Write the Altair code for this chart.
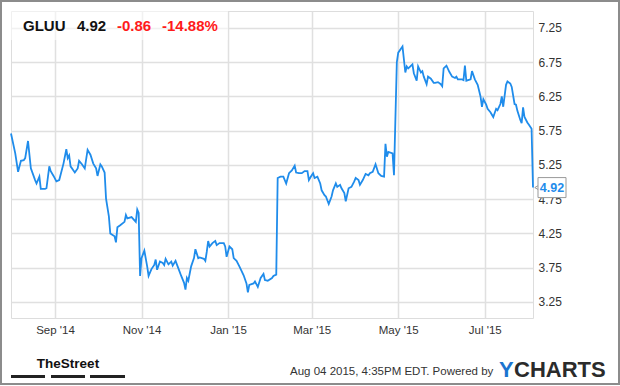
import altair as alt
import pandas as pd

# ---------------- data ----------------
ticker = "GLUU"
last_price = "4.92"
change = "-0.86"
change_pct = "-14.88%"
timestamp_text = "Aug 04 2015, 4:35PM EDT.  Powered by"
brand_left = "TheStreet"
brand_y = "Y"
brand_rest = "CHARTS"

dates = [
    "2014-08-01", "2014-08-04", "2014-08-06", "2014-08-08", "2014-08-10", "2014-08-11",
    "2014-08-13", "2014-08-15", "2014-08-18", "2014-08-19", "2014-08-21", "2014-08-22",
    "2014-08-25", "2014-08-26", "2014-08-28", "2014-08-29", "2014-08-31", "2014-09-02",
    "2014-09-04", "2014-09-07", "2014-09-09", "2014-09-10", "2014-09-11", "2014-09-12",
    "2014-09-15", "2014-09-17", "2014-09-18", "2014-09-20", "2014-09-22", "2014-09-24",
    "2014-09-26", "2014-09-28", "2014-09-30", "2014-10-01", "2014-10-03", "2014-10-04",
    "2014-10-06", "2014-10-07", "2014-10-09", "2014-10-10", "2014-10-13", "2014-10-14",
    "2014-10-15", "2014-10-17", "2014-10-20", "2014-10-21", "2014-10-22", "2014-10-25",
    "2014-10-28", "2014-10-29", "2014-10-30", "2014-10-31", "2014-11-01", "2014-11-03",
    "2014-11-05", "2014-11-06", "2014-11-08", "2014-11-10", "2014-11-11", "2014-11-12",
    "2014-11-14", "2014-11-16", "2014-11-17", "2014-11-18", "2014-11-20", "2014-11-22",
    "2014-11-23", "2014-11-25", "2014-11-27", "2014-11-29", "2014-12-01", "2014-12-02",
    "2014-12-03", "2014-12-04", "2014-12-06", "2014-12-08", "2014-12-09", "2014-12-11",
    "2014-12-12", "2014-12-15", "2014-12-16", "2014-12-17", "2014-12-18", "2014-12-19",
    "2014-12-21", "2014-12-23", "2014-12-24", "2014-12-26", "2014-12-29", "2014-12-30",
    "2014-12-31", "2015-01-02", "2015-01-04", "2015-01-05", "2015-01-07", "2015-01-09",
    "2015-01-12", "2015-01-14", "2015-01-15", "2015-01-16", "2015-01-19", "2015-01-20",
    "2015-01-22", "2015-01-24", "2015-01-26", "2015-01-27", "2015-01-29", "2015-02-01",
    "2015-02-02", "2015-02-04", "2015-02-05", "2015-02-07", "2015-02-09", "2015-02-11",
    "2015-02-13", "2015-02-15", "2015-02-17", "2015-02-18", "2015-02-20", "2015-02-22",
    "2015-02-24", "2015-02-26", "2015-02-27", "2015-03-01", "2015-03-02", "2015-03-03",
    "2015-03-05", "2015-03-07", "2015-03-08", "2015-03-10", "2015-03-11", "2015-03-13",
    "2015-03-15", "2015-03-16", "2015-03-18", "2015-03-19", "2015-03-21", "2015-03-22",
    "2015-03-24", "2015-03-25", "2015-03-27", "2015-03-29", "2015-03-31", "2015-04-01",
    "2015-04-03", "2015-04-04", "2015-04-06", "2015-04-08", "2015-04-10", "2015-04-11",
    "2015-04-13", "2015-04-15", "2015-04-17", "2015-04-19", "2015-04-21", "2015-04-22",
    "2015-04-23", "2015-04-24", "2015-04-27", "2015-04-28", "2015-04-30", "2015-05-01",
    "2015-05-04", "2015-05-06", "2015-05-07", "2015-05-08", "2015-05-09", "2015-05-11",
    "2015-05-12", "2015-05-14", "2015-05-15", "2015-05-17", "2015-05-18", "2015-05-19",
    "2015-05-21", "2015-05-22", "2015-05-24", "2015-05-26", "2015-05-27", "2015-05-29",
    "2015-05-31", "2015-06-01", "2015-06-02", "2015-06-04", "2015-06-06", "2015-06-08",
    "2015-06-10", "2015-06-11", "2015-06-12", "2015-06-15", "2015-06-16", "2015-06-17",
    "2015-06-18", "2015-06-21", "2015-06-22", "2015-06-24", "2015-06-26", "2015-06-28",
    "2015-06-29", "2015-06-30", "2015-07-02", "2015-07-03", "2015-07-05", "2015-07-07",
    "2015-07-09", "2015-07-10", "2015-07-12", "2015-07-13", "2015-07-14", "2015-07-16",
    "2015-07-17", "2015-07-19", "2015-07-20", "2015-07-22", "2015-07-23", "2015-07-24",
    "2015-07-26", "2015-07-27", "2015-07-28", "2015-07-29", "2015-07-31", "2015-08-01",
    "2015-08-03", "2015-08-04",
]

prices = [
    5.71, 5.42, 5.15, 5.31, 5.32, 5.35,
    5.60, 5.20, 5.03, 4.98, 5.08, 4.90,
    4.90, 4.91, 5.23, 5.16, 5.09, 5.01,
    5.03, 5.27, 5.48, 5.35, 5.39, 5.23,
    5.14, 5.20, 5.31, 5.26, 5.20, 5.47,
    5.40, 5.27, 5.20, 5.09, 5.26, 5.23,
    5.14, 4.76, 4.50, 4.25, 4.21, 4.12,
    4.34, 4.37, 4.42, 4.52, 4.47, 4.49,
    4.42, 4.60, 4.55, 3.63, 3.89, 4.00,
    3.77, 3.63, 3.73, 3.79, 3.87, 3.72,
    3.84, 3.82, 3.79, 3.88, 3.80, 3.84,
    3.78, 3.85, 3.74, 3.63, 3.53, 3.43,
    3.60, 3.56, 3.77, 3.89, 4.02, 3.89,
    3.90, 3.88, 3.85, 3.98, 4.14, 4.06,
    4.11, 4.14, 4.08, 4.11, 4.11, 4.06,
    3.91, 4.06, 4.02, 3.89, 3.85, 3.77,
    3.64, 3.52, 3.39, 3.50, 3.52, 3.55,
    3.47, 3.60, 3.66, 3.57, 3.56, 3.60,
    3.63, 3.65, 5.06, 5.08, 5.08, 4.98,
    5.13, 5.17, 5.24, 5.14, 5.13, 5.13,
    5.16, 5.16, 5.03, 5.10, 5.13, 5.06,
    5.08, 4.98, 4.88, 4.81, 4.79, 4.68,
    4.79, 4.88, 4.98, 4.93, 4.96, 4.91,
    4.84, 4.72, 4.91, 4.93, 5.01, 5.06,
    5.03, 4.96, 5.03, 5.12, 5.10, 5.13,
    5.15, 5.26, 5.13, 5.09, 5.08, 5.56,
    5.37, 5.44, 5.42, 5.10, 6.75, 6.89,
    6.98, 6.60, 6.69, 6.66, 6.68, 6.72,
    6.59, 6.48, 6.69, 6.60, 6.62, 6.54,
    6.43, 6.54, 6.51, 6.45, 6.45, 6.46,
    6.43, 6.40, 6.66, 6.70, 6.61, 6.54,
    6.52, 6.54, 6.50, 6.50, 6.49, 6.70,
    6.48, 6.50, 6.62, 6.50, 6.42, 6.25,
    6.10, 6.21, 6.13, 6.07, 6.02, 5.95,
    6.07, 6.05, 6.14, 6.25, 6.10, 6.42,
    6.47, 6.44, 6.39, 6.14, 6.13, 6.04,
    5.91, 5.86, 6.09, 5.95, 5.87, 5.84,
    5.78, 4.92,
]

y_ticks = [3.25, 3.75, 4.25, 4.75, 5.25, 5.75, 6.25, 6.75, 7.25]
x_tick_dates = [(2014, 9), (2014, 11), (2015, 1), (2015, 3), (2015, 5), (2015, 7)]

# ---------------- chart ----------------
FONT = "Liberation Sans"
LINE_BLUE = "#1f8ceb"
W, H = 522, 307

df = pd.DataFrame({"date": dates, "price": prices})
last_df = pd.DataFrame({"date": [dates[-1]], "price": [prices[-1]], "label": [last_price]})

x_scale = alt.Scale(
    type="utc",
    domain=[alt.DateTime(year=2014, month=8, date=1, utc=True),
            alt.DateTime(year=2015, month=8, date=4, utc=True)],
)
y_scale = alt.Scale(domain=[3.016, 7.498], nice=False, zero=False)

x_enc = alt.X(
    "date:T", scale=x_scale, title=None,
    axis=alt.Axis(
        values=[alt.DateTime(year=y, month=m, date=1, utc=True) for y, m in x_tick_dates],
        labelExpr="utcFormat(datum.value, \"%b '%y\")", tickCount=20,
        grid=True, gridColor="#e0e0e0", gridWidth=1.5,
        ticks=False, domain=False, labelFont=FONT, labelFontSize=11.5, labelColor="#333",
        labelPadding=6, labelFlush=False, labelOverlap=False,
    ),
)
y_enc = alt.Y(
    "price:Q", scale=y_scale, title=None,
    axis=alt.Axis(
        orient="right", values=y_ticks, tickCount=20, format=".2f", grid=True,
        gridColor="#e0e0e0", gridWidth=1.5, ticks=False, domain=False, labelFont=FONT,
        labelFontSize=12, labelColor="#333", labelPadding=5, labelOverlap=False,
    ),
)

line = alt.Chart(df).mark_line(color=LINE_BLUE, strokeWidth=1.8).encode(x=x_enc, y=y_enc)

one = pd.DataFrame({"k": [0]})

title_box = alt.Chart(one).mark_rect(fill="white", opacity=0.55).encode(
    x=alt.value(0), x2=alt.value(217), y=alt.value(0), y2=alt.value(29)
)


def label(text, x, y, size, color, weight="normal", font=FONT, align="left"):
    return alt.Chart(pd.DataFrame({"t": [text]})).mark_text(
        align=align, baseline="alphabetic", font=font, fontSize=size,
        fontWeight=weight, color=color,
    ).encode(x=alt.value(x), y=alt.value(y), text="t:N")


t1 = label(ticker, 12, 20, 15, "#111", "bold")
t2 = label(last_price, 66, 20, 15, "#111", "bold")
t3 = label(change, 106, 20, 15, "#ff1a1a", "bold")
t4 = label(change_pct, 151, 20, 15, "#ff1a1a", "bold")

tri = alt.Chart(last_df).mark_point(
    shape="triangle-left", size=55, filled=True, fill="white", stroke="#999",
    strokeWidth=1, opacity=1, xOffset=5,
).encode(x="date:T", y="price:Q")
box = alt.Chart(last_df).mark_rect(
    fill="white", stroke="#999", strokeWidth=1, xOffset=5, x2Offset=33,
    yOffset=-10, y2Offset=10,
).encode(x="date:T", x2=alt.X2(field="date"), y="price:Q", y2=alt.Y2(field="price"))
box_txt = alt.Chart(last_df).mark_text(
    color=LINE_BLUE, fontWeight="bold", fontSize=12.5, font=FONT, align="center",
    baseline="middle", dx=19,
).encode(x="date:T", y="price:Q", text="label:N")

f1 = label(brand_left, 57, 357, 13.5, "#111", "bold", align="center")
bars = [
    alt.Chart(one).mark_rect(color="#222").encode(
        x=alt.value(a), x2=alt.value(b), y=alt.value(364), y2=alt.value(367)
    )
    for a, b in [(0, 34), (40, 74), (79, 114)]
]
f2 = label(timestamp_text, 279, 364, 11.5, "#333")
f3 = label(brand_y, 488, 366, 22, "#1b74cf", "bold")
f4 = label(brand_rest, 503, 366, 22, "#2b2b2b", "bold")

frame = alt.Chart(one).mark_rect(filled=False, stroke="#8c8c8c", strokeWidth=2).encode(
    x=alt.value(-10), x2=alt.value(608), y=alt.value(-10), y2=alt.value(373)
)

chart = alt.layer(
    line, title_box, t1, t2, t3, t4, tri, box, box_txt, f1, *bars, f2, f3, f4, frame
).properties(
    width=W, height=H,
    padding={"left": 11, "top": 11, "right": 87, "bottom": 68},
    autosize=alt.AutoSizeParams(type="none"),
    background="white",
).configure_view(
    stroke="#9a9a9a", strokeWidth=1, fill="#f6f6f6"
).configure(font=FONT)

chart.save("out.html", embed_options={"renderer": "svg", "actions": False})
